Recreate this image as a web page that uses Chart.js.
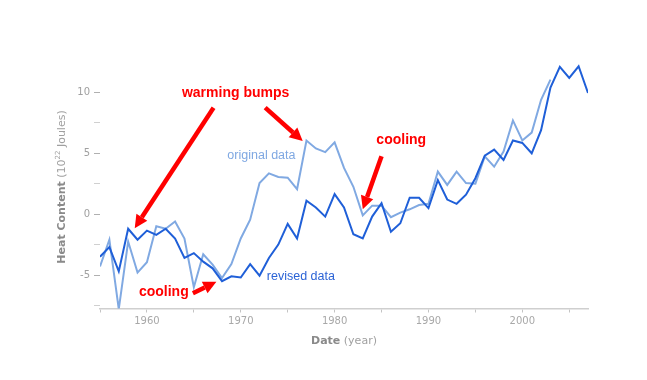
<!DOCTYPE html>
<html>
<head>
<meta charset="utf-8">
<script src="https://cdn.jsdelivr.net/npm/chart.js@4/dist/chart.umd.min.js"></script>
<style>
  html, body { margin: 0; padding: 0; background: #fff; }
  #wrap { width: 647px; height: 380px; }
</style>
</head>
<body>
<div id="wrap"><canvas id="heatChart"></canvas></div>
<script>
// years on the x axis
const years = [1955, 1956, 1957, 1958, 1959, 1960, 1961, 1962, 1963, 1964,
  1965, 1966, 1967, 1968, 1969, 1970, 1971, 1972, 1973, 1974,
  1975, 1976, 1977, 1978, 1979, 1980, 1981, 1982, 1983, 1984,
  1985, 1986, 1987, 1988, 1989, 1990, 1991, 1992, 1993, 1994,
  1995, 1996, 1997, 1998, 1999, 2000, 2001, 2002, 2003, 2004,
  2005, 2006, 2007]

// heat content, 10^22 J
const revised = [-3.5, -2.7, -4.7, -1.2, -2.1, -1.35, -1.7, -1.2, -2.0, -3.6,
  -3.2, -3.9, -4.45, -5.5, -5.1, -5.2, -4.1, -5.05, -3.6, -2.5,
  -0.8, -2.0, 1.1, 0.55, -0.2, 1.65, 0.55, -1.65, -2.0, -0.2,
  0.9, -1.45, -0.75, 1.35, 1.35, 0.5, 2.8, 1.2, 0.85, 1.6,
  2.95, 4.8, 5.3, 4.45, 6.05, 5.85, 5.0, 6.9, 10.4, 12.1,
  11.2, 12.15, 9.95]

// original series stops at 2003
const original = [-4.3, -2.1, -7.8, -2.25, -4.8, -3.95, -1.0, -1.2, -0.6, -2.0,
  -6.0, -3.3, -4.15, -5.25, -4.1, -2.0, -0.45, 2.55, 3.35, 3.05,
  3.0, 2.05, 6.05, 5.4, 5.1, 5.9, 3.8, 2.25, -0.1, 0.7,
  0.7, -0.25, 0.13, 0.4, 0.75, 0.85, 3.5, 2.4, 3.5, 2.55,
  2.5, 4.75, 3.9, 5.15, 7.7, 6.05, 6.7, 9.4, 11.05]

const xTicks = [1955, 1960, 1965, 1970, 1975, 1980, 1985, 1990, 1995, 2000, 2005]
const yTicks = [-7.5, -5, -2.5, 0, 2.5, 5, 7.5, 10]

// annotation texts and arrows, placed in data units (year, value)
const notes = [
  { text: 'warming bumps', x: 1969.45, y: 9.95, font: 'bold 14px "Liberation Sans", Arial, sans-serif', color: '#ff0000' },
  { text: 'cooling', x: 1961.8, y: -6.37, font: 'bold 14px "Liberation Sans", Arial, sans-serif', color: '#ff0000' },
  { text: 'cooling', x: 1987.1, y: 6.06, font: 'bold 14px "Liberation Sans", Arial, sans-serif', color: '#ff0000' },
  { text: 'original data', x: 1972.2, y: 4.8, font: '12.5px "Liberation Sans", Arial, sans-serif', color: '#7fa8e2' },
  { text: 'revised data', x: 1976.4, y: -5.14, font: '12.5px "Liberation Sans", Arial, sans-serif', color: '#2b63d6' }
]
const arrows = [
  { x1: 1967.1, y1: 8.75, x2: 1958.7, y2: -1.15 },
  { x1: 1972.6, y1: 8.75, x2: 1976.6, y2: 6.0 },
  { x1: 1964.9, y1: -6.5, x2: 1967.4, y2: -5.55 },
  { x1: 1985.0, y1: 4.75, x2: 1983.0, y2: 0.4 }
]

const toPoints = (vals) => vals.map((v, i) => ({ x: years[i], y: v }))

const drawArrow = (ctx, ax, ay, bx, by) => {
  const ang = Math.atan2(by - ay, bx - ax)
  const head = 13
  const hx = bx - Math.cos(ang) * head
  const hy = by - Math.sin(ang) * head
  ctx.strokeStyle = '#ff0000'
  ctx.fillStyle = '#ff0000'
  ctx.lineWidth = 4.5
  ctx.beginPath()
  ctx.moveTo(ax, ay)
  ctx.lineTo(hx, hy)
  ctx.stroke()
  ctx.beginPath()
  ctx.moveTo(bx, by)
  ctx.lineTo(hx + Math.sin(ang) * 6.5, hy - Math.cos(ang) * 6.5)
  ctx.lineTo(hx - Math.sin(ang) * 6.5, hy + Math.cos(ang) * 6.5)
  ctx.closePath()
  ctx.fill()
}

const notesPlugin = {
  id: 'notes',
  afterDatasetsDraw(chart) {
    const ctx = chart.ctx
    const xs = chart.scales.x
    const ys = chart.scales.y
    ctx.save()
    arrows.forEach((a) => {
      drawArrow(ctx, xs.getPixelForValue(a.x1), ys.getPixelForValue(a.y1),
        xs.getPixelForValue(a.x2), ys.getPixelForValue(a.y2))
    })
    ctx.textAlign = 'center'
    ctx.textBaseline = 'middle'
    notes.forEach((n) => {
      ctx.font = n.font
      ctx.fillStyle = n.color
      ctx.fillText(n.text, xs.getPixelForValue(n.x), ys.getPixelForValue(n.y))
    })
    ctx.restore()
  }
}

// axis titles mix bold and normal text, so they are drawn by hand
const titlesPlugin = {
  id: 'titles',
  afterDraw(chart) {
    const ctx = chart.ctx
    const area = chart.chartArea
    const bold = 'bold 11px "DejaVu Sans", sans-serif'
    const normal = '11px "DejaVu Sans", sans-serif'
    const small = '7px "DejaVu Sans", sans-serif'
    ctx.save()
    ctx.textBaseline = 'middle'
    ctx.textAlign = 'left'

    // x title
    ctx.font = bold
    const w1 = ctx.measureText('Date').width
    ctx.font = normal
    const w2 = ctx.measureText(' (year)').width
    let x0 = (area.left + area.right) / 2 - (w1 + w2) / 2
    ctx.font = bold
    ctx.fillStyle = '#8a8a8a'
    ctx.fillText('Date', x0, 341)
    ctx.font = normal
    ctx.fillStyle = '#a0a0a0'
    ctx.fillText(' (year)', x0 + w1, 341)

    // y title
    const parts = [
      { t: 'Heat Content', f: bold, c: '#8a8a8a', dy: 0 },
      { t: ' (10', f: normal, c: '#a0a0a0', dy: 0 },
      { t: '22', f: small, c: '#a0a0a0', dy: -4 },
      { t: ' Joules)', f: normal, c: '#a0a0a0', dy: 0 }
    ]
    let total = 0
    parts.forEach((p) => { ctx.font = p.f; p.w = ctx.measureText(p.t).width; total += p.w })
    ctx.translate(62, 187)
    ctx.rotate(-Math.PI / 2)
    let pos = -total / 2
    parts.forEach((p) => {
      ctx.font = p.f
      ctx.fillStyle = p.c
      ctx.fillText(p.t, pos, p.dy)
      pos += p.w
    })
    ctx.restore()
  }
}

const ctx = document.getElementById('heatChart').getContext('2d')
const heatChart = new Chart(ctx, {
  type: 'line',
  data: {
    datasets: [
      {
        label: 'revised data',
        data: toPoints(revised),
        borderColor: '#1f5fd8',
        borderWidth: 2,
        pointRadius: 0,
        tension: 0,
        fill: false
      },
      {
        label: 'original data',
        data: toPoints(original),
        borderColor: '#80a9e2',
        borderWidth: 2,
        pointRadius: 0,
        tension: 0,
        fill: false
      }
    ]
  },
  options: {
    responsive: true,
    maintainAspectRatio: false,
    animation: false,
    layout: { padding: { left: 0, right: 59, top: 62, bottom: 0 } },
    plugins: {
      legend: { display: false },
      tooltip: { enabled: false }
    },
    scales: {
      x: {
        type: 'linear',
        min: 1955,
        max: 2007,
        afterBuildTicks: (s) => { s.ticks = xTicks.map((v) => ({ value: v })) },
        afterFit: (s) => { s.height = 71.5 },
        border: { display: true, color: '#cfcfcf', width: 1.5 },
        grid: { drawOnChartArea: false, drawTicks: true, tickLength: 4, color: '#c4c4c4' },
        ticks: {
          padding: 3,
          autoSkip: false,
          maxRotation: 0,
          color: '#a8a8a8',
          font: { family: '"DejaVu Sans", sans-serif', size: 10 },
          callback: (v) => (v % 10 === 0 ? String(v) : '')
        }
      },
      y: {
        type: 'linear',
        min: -7.75,
        max: 12.5,
        afterBuildTicks: (s) => { s.ticks = yTicks.map((v) => ({ value: v })) },
        afterFit: (s) => { s.width = 100 },
        border: { display: false },
        grid: {
          drawOnChartArea: false,
          drawTicks: true,
          tickLength: 6,
          tickColor: (c) => (c.tick && c.tick.value % 5 === 0 ? '#b0b0b0' : '#d0d0d0')
        },
        ticks: {
          padding: 4,
          color: '#a0a0a0',
          font: { family: '"DejaVu Sans", sans-serif', size: 10 },
          callback: (v) => (v % 5 === 0 ? String(v) : '')
        }
      }
    }
  },
  plugins: [notesPlugin, titlesPlugin]
})
</script>
</body>
</html>
